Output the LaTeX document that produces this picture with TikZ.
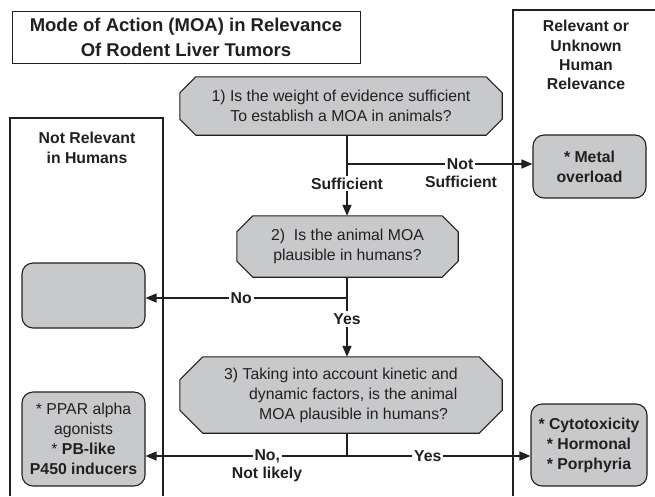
\documentclass[tikz,border=0pt]{standalone}
\usepackage{fontspec}
\setmainfont{Liberation Sans}
\usetikzlibrary{arrows.meta,backgrounds}
\definecolor{boxgray}{RGB}{200,201,203}
\definecolor{ink}{RGB}{35,31,32}
\newcommand\chambox[2]{%
  \filldraw[chamf] ([xshift=#2pt]#1.north west) -- ([xshift=-#2pt]#1.north east) -- ([yshift=-#2pt]#1.north east) -- ([yshift=#2pt]#1.south east) -- ([xshift=-#2pt]#1.south east) -- ([xshift=#2pt]#1.south west) -- ([yshift=#2pt]#1.south west) -- ([yshift=-#2pt]#1.north west) -- cycle;}
\tikzset{
  txt/.style={font=\fontsize{15.8}{20}\selectfont, align=center, text=ink},
  btxt/.style={font=\bfseries\fontsize{15.8}{20}\selectfont, align=center, text=ink},
  decision/.style={txt, inner sep=0pt},
  resbox/.style={draw=ink, line width=1.1pt, fill=boxgray, rounded corners=11pt, inner sep=0pt},
  conn/.style={draw=ink, line width=1.5pt},
  arr/.style={conn, -{Triangle[length=11pt,width=9pt]}},
  lbl/.style={btxt, fill=white, inner sep=2pt},
  panel/.style={draw=ink, line width=1.3pt},
  chamf/.style={fill=boxgray, draw=ink, line width=1.1pt, line join=miter},
}
\begin{document}
\begin{tikzpicture}[x=1pt, y=-1pt]
\useasboundingbox (0,0) rectangle (655,496);
% panels
\coordinate (lpa) at (10,496);
\coordinate (lpb) at (10,118);
\coordinate (lpc) at (163,118);
\coordinate (lpd) at (163,496);
\coordinate (rpa) at (513,496);
\coordinate (rpb) at (513,10);
\coordinate (rpc) at (655,10);
\draw[panel] (lpa) -- (lpb) -- (lpc) -- (lpd);
\draw[panel] (rpa) -- (rpb) -- (rpc);
% title
\node[draw=ink, line width=1pt, minimum width=348pt, minimum height=52pt, inner sep=0pt,
  font=\bfseries\fontsize{18.5}{25}\selectfont, align=center, text=ink] (title) at (186,37)
  {Mode of Action (MOA) in Relevance\\Of Rodent Liver Tumors};
% panel headers
\node[btxt] (lphead) at (87,148) {Not Relevant\\in Humans};
\node[btxt, font=\bfseries\fontsize{15.8}{19.3}\selectfont] (rphead) at (586,55) {Relevant or\\Unknown\\Human\\Relevance};
% decisions
\node[decision, minimum width=322pt, minimum height=58pt] (b1) at (341,106)
  {1) Is the weight of evidence sufficient\\To establish a MOA in animals?};
\node[decision, minimum width=221pt, minimum height=61pt] (b2) at (347.5,246.5)
  {2)\ \ Is the animal MOA\\plausible in humans?};
\node[decision, minimum width=322pt, minimum height=76pt, align=left] (b3) at (341,395)
  {3) Taking into account kinetic and\\\hspace*{25pt}dynamic factors, is the animal\\\hspace*{35pt}MOA plausible in humans?};
\begin{scope}[on background layer]
  \chambox{b1}{16}
  \chambox{b2}{16}
  \chambox{b3}{23}
\end{scope}
% results
\node[resbox, btxt, minimum width=113pt, minimum height=63pt] (metal) at (589.5,166.5) {* Metal\\overload};
\node[resbox, minimum width=123pt, minimum height=65pt] (empty) at (83.5,295.5) {};
\node[resbox, txt, minimum width=123pt, minimum height=94pt] (ppar) at (83.5,439)
  {* PPAR alpha\\agonists\\* \textbf{PB-like}\\\textbf{P450 inducers}};
\node[resbox, btxt, minimum width=116pt, minimum height=82pt] (cyto) at (589,445)
  {* Cytotoxicity\\* Hormonal\\* Porphyria};
% connectors
\coordinate (j1) at (347,164);
\coordinate (j2) at (347,298);
\coordinate (j3) at (347,456);
\draw[arr] (j1 |- b1.south) -- node[lbl, pos=0.6] (suf) {Sufficient} (j1 |- b2.north);
\draw[arr] (j1) -- node[lbl, pos=0.61] (notl) {Not} (metal.west |- j1);
\node[btxt] (notsuf) at (461,182) {Sufficient};
\draw[arr] (j2 |- b2.south) -- node[lbl, pos=0.525] (yes1) {Yes} (j2 |- b3.north);
\draw[arr] (j2) -- node[lbl, pos=0.525] (no1) {No} (empty.east |- j2);
\draw[conn] (j3 |- b3.south) -- (j3);
\draw[arr] (j3) -- node[lbl, pos=0.396] (no2) {No,} (ppar.east |- j3);
\node[btxt] (notlikely) at (267,474) {Not likely};
\draw[arr] (j3) -- node[lbl, pos=0.44] (yes2) {Yes} (cyto.west |- j3);
\end{tikzpicture}
\end{document}
